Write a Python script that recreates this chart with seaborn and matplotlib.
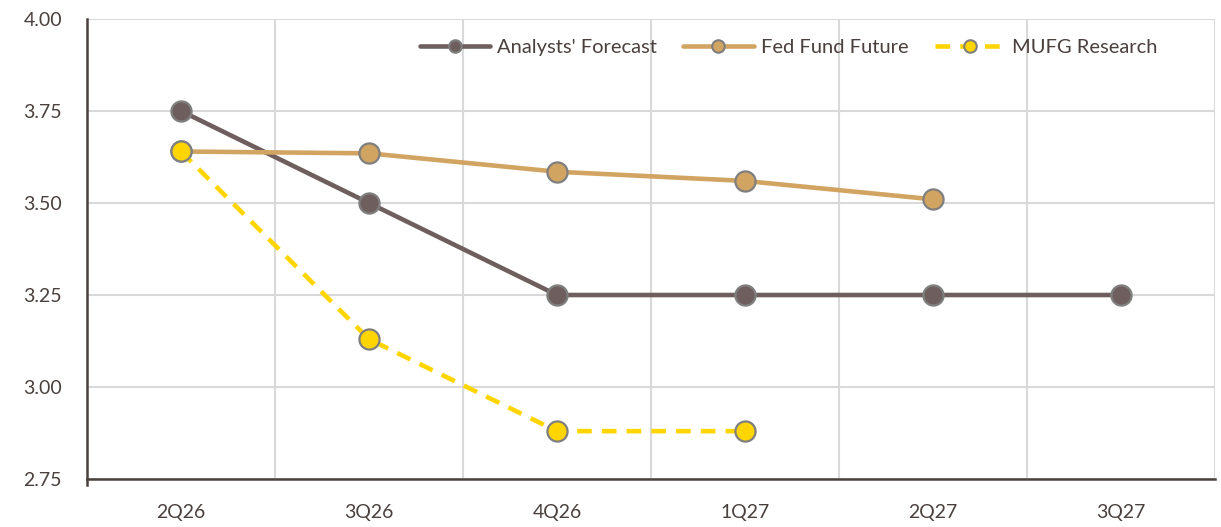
import matplotlib
matplotlib.use("Agg")
import matplotlib.pyplot as plt
import seaborn as sns
import pandas as pd
import numpy as np

# Data
quarters = ['2Q26', '3Q26', '4Q26', '1Q27', '2Q27', '3Q27']
analysts = [3.75, 3.50, 3.25, 3.25, 3.25, 3.25]
fed_future = [3.64, 3.635, 3.585, 3.56, 3.51, None]
mufg = [3.64, 3.13, 2.88, 2.88, None, None]

series_names = ["Analysts' Forecast", 'Fed Fund Future', 'MUFG Research']
series_values = [analysts, fed_future, mufg]
colors = ['#6E5F5E', '#D2A462', '#FFD500']
text_color = '#4A403D'

sns.set_theme(style='white')
plt.rcParams['font.family'] = ['Lato', 'DejaVu Sans']

fig = plt.figure(figsize=(12.21, 5.27), dpi=100)
ax = fig.add_axes([0.0713, 0.0911, 0.9237, 0.8728])

x_pos = np.arange(len(quarters))
for name, vals, col in zip(series_names, series_values, colors):
    df = pd.DataFrame({'x': x_pos, 'y': vals}).dropna()
    dashed = name == 'MUFG Research'
    sns.lineplot(data=df, x='x', y='y', ax=ax, color=col, lw=3.3,
                 marker='o', markersize=14.5, markeredgecolor='#7F7F7F',
                 markeredgewidth=1.6, label=name,
                 linestyle=(0, (3.2, 2.2)) if dashed else '-')

ax.set_xlim(-0.5, len(quarters) - 0.5)
ax.set_ylim(2.75, 4.0)
ax.set_yticks([2.75, 3.0, 3.25, 3.5, 3.75, 4.0])
ax.set_yticklabels([f'{v:.2f}' for v in [2.75, 3.0, 3.25, 3.5, 3.75, 4.0]])
ax.set_xticks(x_pos)
ax.set_xticklabels(quarters)
ax.set_xticks(np.arange(-0.5, len(quarters), 1.0), minor=True)
ax.set_xlabel('')
ax.set_ylabel('')

ax.tick_params(axis='x', which='major', length=0, pad=18, labelsize=14, labelcolor=text_color)
ax.tick_params(axis='x', which='minor', length=8, width=1.3, color='#4A403D', direction='out')
ax.tick_params(axis='y', length=0, pad=18, labelsize=14, labelcolor=text_color)

ax.grid(axis='y', color='#D9D9D9', lw=1.5)
ax.grid(axis='x', which='minor', color='#D9D9D9', lw=1.5)
ax.set_axisbelow(True)

for s in ['top', 'right']:
    ax.spines[s].set_visible(False)
for s in ['left', 'bottom']:
    ax.spines[s].set_color('#4A403D')
    ax.spines[s].set_linewidth(1.8)
ax.spines['left'].set_bounds(2.733, 4.0)

leg = ax.legend(loc='center', bbox_to_anchor=(0.622, 0.939), ncol=3, frameon=False,
                fontsize=14.5, handlelength=3.5, columnspacing=1.3, handletextpad=0.35)
for t in leg.get_texts():
    t.set_color(text_color)
for h in leg.legend_handles:
    h.set_markersize(9)
    h.set_markeredgewidth(1.5)

fig.savefig('out.png', dpi=100)
